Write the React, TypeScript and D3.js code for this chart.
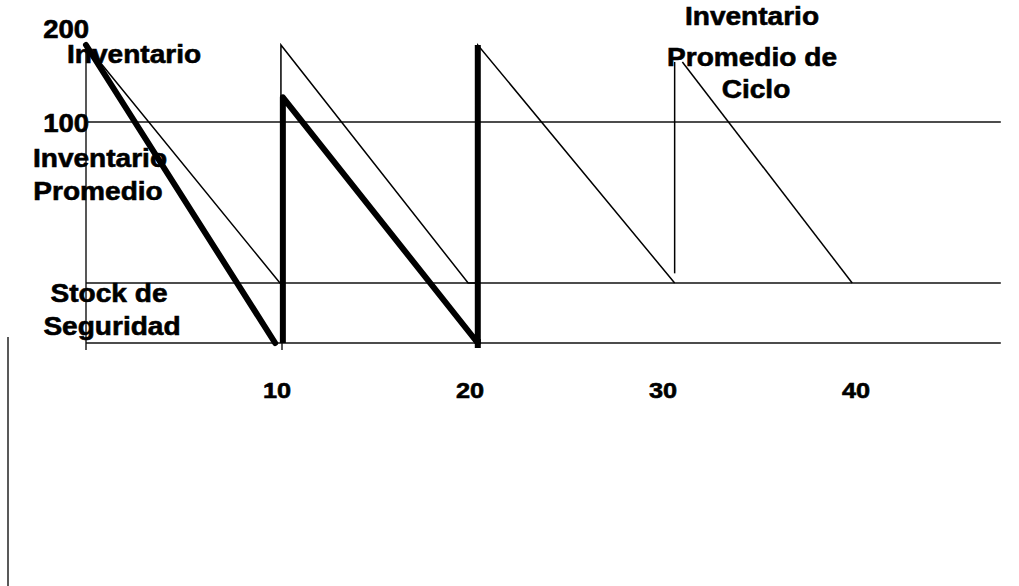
import React from "react";
import * as d3 from "d3";

// ---- data ----
const yLevels = [0, 50, 100, 200]; // baseline, safety stock, 100, 200
const yTickValues = [200, 100];
const xTickValues = [10, 20, 30, 40];
const xEnd = 47.4;

// thin line: inventory including safety stock
const thinPath1: [number, number][] = [
  [0, 200], [10.05, 50], [10.1, 50], [10.1, 200], [19.8, 50], [20.3, 50], [20.3, 200], [30.5, 50],
];
const thinPath2: [number, number][] = [[30.5, 53], [30.5, 178]];
const thinPath3: [number, number][] = [[30.9, 178], [39.7, 50]];

// thick line: cycle inventory
const thickPath1: [number, number][] = [[0, 200], [9.8, 0]];
const thickPath2: [number, number][] = [[10.2, 0], [10.2, 132], [20.3, 0], [20.3, 200]];

const W = 1019;
const H = 586;

const x = d3.scaleLinear().domain([0, 40]).range([86, 858]);
const y = d3.scaleLinear().domain(yLevels).range([343, 283, 122, 45]);

const line = d3
  .line<[number, number]>()
  .x((d) => x(d[0]))
  .y((d) => y(d[1]));

const FONT = "'Liberation Sans', Arial, Helvetica, sans-serif";

function Label({
  tx,
  ty,
  text,
  anchor = "start",
  size = 26,
  sx = 1.08,
}: {
  tx: number;
  ty: number;
  text: string;
  anchor?: string;
  size?: number;
  sx?: number;
}) {
  return (
    <text
      transform={`translate(${tx},${ty}) scale(${sx},1)`}
      textAnchor={anchor}
      fontFamily={FONT}
      fontWeight="bold"
      fontSize={size}
      fill="#000"
      stroke="#000"
      strokeWidth={0.6}
    >
      {text}
    </text>
  );
}

export default function App() {
  const yTickDy: Record<number, number> = { 200: -7, 100: 10 };
  return (
    <svg
      width={W}
      height={H}
      viewBox={`0 0 ${W} ${H}`}
      style={{ position: "absolute", left: 0, top: 0, background: "#fff" }}
    >
      <rect x={0} y={0} width={W} height={H} fill="#fff" />

      {/* horizontal reference lines */}
      {[100, 50, 0].map((v) => (
        <line
          key={v}
          x1={x(0) + (v === 100 ? 2 : 0)}
          x2={x(xEnd)}
          y1={y(v)}
          y2={y(v)}
          stroke="#111"
          strokeWidth={1.4}
        />
      ))}

      {/* y axis */}
      <line x1={x(0)} x2={x(0)} y1={y(200)} y2={y(0) + 7} stroke="#111" strokeWidth={1.4} />
      {/* tick below baseline at 10 */}
      <line x1={x(10) + 3} x2={x(10) + 3} y1={y(0)} y2={y(0) + 7} stroke="#111" strokeWidth={1.4} />

      {/* thin lines */}
      {[thinPath1, thinPath2, thinPath3].map((p, i) => (
        <path key={i} d={line(p) || ""} fill="none" stroke="#000" strokeWidth={1.5} strokeLinejoin="miter" />
      ))}

      {/* thick lines */}
      {[thickPath1, thickPath2].map((p, i) => (
        <path
          key={i}
          d={line(p) || ""}
          fill="none"
          stroke="#000"
          strokeWidth={6}
          strokeLinejoin="round"
          strokeLinecap={i === 1 ? "butt" : "round"}
        />
      ))}
      {/* thick bottom overshoot at 20 */}
      <line x1={x(20.3)} x2={x(20.3)} y1={y(0) - 4} y2={y(0) + 5} stroke="#000" strokeWidth={6} />

      {/* y tick labels */}
      {yTickValues.map((v) => (
        <Label key={v} tx={89} ty={y(v) + yTickDy[v]} text={String(v)} anchor="end" size={25} sx={1.1} />
      ))}

      {/* x tick labels */}
      {xTickValues.map((v) => (
        <Label key={v} tx={x(v) - 2} ty={398} text={String(v)} anchor="middle" size={22} sx={1.15} />
      ))}

      {/* annotations */}
      <Label tx={67} ty={63} text="Inventario" />
      <Label tx={100} ty={167} text="Inventario" anchor="middle" />
      <Label tx={98} ty={200} text="Promedio" anchor="middle" />
      <Label tx={109} ty={302} text="Stock de" anchor="middle" />
      <Label tx={112} ty={335} text="Seguridad" anchor="middle" />
      <Label tx={752} ty={25} text="Inventario" anchor="middle" />
      <Label tx={752} ty={66} text="Promedio de" anchor="middle" />
      <Label tx={756} ty={98} text="Ciclo" anchor="middle" />

      {/* scan edge at left */}
      <line x1={8} x2={8} y1={337} y2={H} stroke="#222" strokeWidth={1.5} />
    </svg>
  );
}
